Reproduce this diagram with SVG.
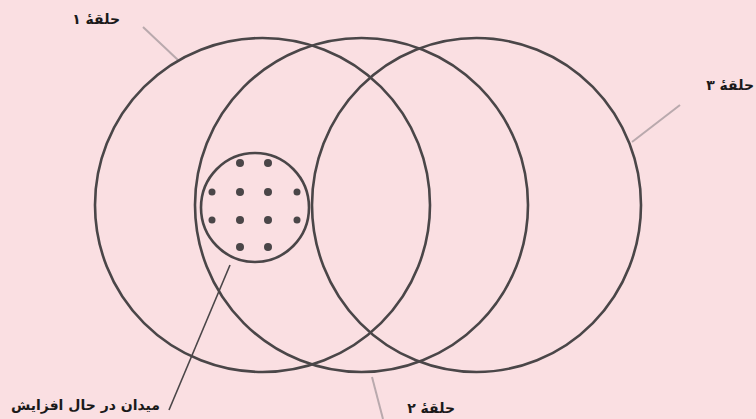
<svg xmlns="http://www.w3.org/2000/svg" width="756" height="419" viewBox="0 0 756 419">
<style>
.ring{fill:none;stroke:#4a4648;stroke-width:2.6}
.lead{fill:none;stroke:#4a4648;stroke-width:1.6}
.faint{fill:none;stroke:#b9a9ad;stroke-width:2}
.dot{fill:#4a4648}
.lbl{font-family:"DejaVu Sans","Noto Sans",sans-serif;font-weight:bold;font-size:14px;fill:#1a1a1a;text-anchor:end}
</style>
<rect width="756" height="419" fill="#fadfe2"/>
<g id="connectors">
<line class="faint" x1="143" y1="27" x2="178" y2="60"/>
<line class="faint" x1="680" y1="105" x2="632" y2="142"/>
<line class="faint" x1="372" y1="377" x2="383" y2="419"/>
<line class="lead" x1="230" y1="265" x2="169" y2="410"/>
</g>
<g id="ring1">
<ellipse class="ring" cx="262.5" cy="205" rx="167.5" ry="167"/>
<text class="lbl" x="120" y="24">حلقهٔ ۱</text>
</g>
<g id="ring2">
<ellipse class="ring" cx="361.5" cy="205" rx="166.5" ry="167"/>
<text class="lbl" x="455" y="413">حلقهٔ ۲</text>
</g>
<g id="ring3">
<ellipse class="ring" cx="476.5" cy="205" rx="164.5" ry="167"/>
<text class="lbl" x="754" y="90">حلقهٔ ۳</text>
</g>
<g id="field">
<ellipse class="ring" cx="255" cy="207.5" rx="54" ry="54.5"/>
<circle class="dot" cx="240" cy="163" r="4"/>
<circle class="dot" cx="268" cy="163" r="4"/>
<circle class="dot" cx="212" cy="192" r="3.5"/>
<circle class="dot" cx="240" cy="192" r="4"/>
<circle class="dot" cx="268" cy="192" r="4"/>
<circle class="dot" cx="297" cy="192" r="3.5"/>
<circle class="dot" cx="212" cy="220" r="3.5"/>
<circle class="dot" cx="240" cy="220" r="4"/>
<circle class="dot" cx="268" cy="220" r="4"/>
<circle class="dot" cx="297" cy="220" r="3.5"/>
<circle class="dot" cx="240" cy="247" r="4"/>
<circle class="dot" cx="268" cy="247" r="4"/>
<text class="lbl" x="160" y="410">میدان در حال افزایش</text>
</g>
</svg>
